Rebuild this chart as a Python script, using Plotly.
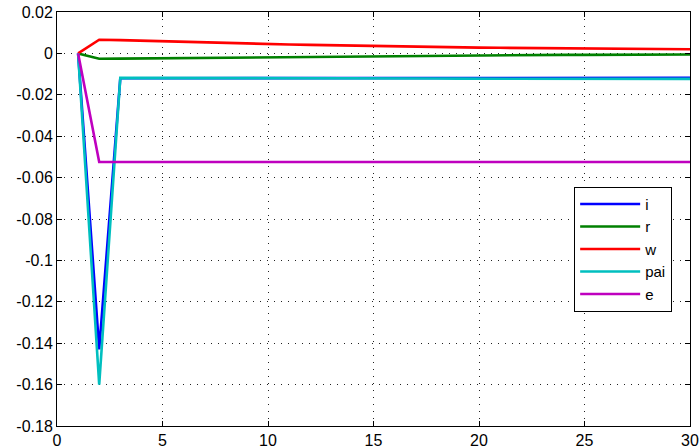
import plotly.graph_objects as go

# Impulse responses over 30 periods
periods = list(range(1, 31))

i_resp = [0, -0.143, -0.0120, -0.0120, -0.0120, -0.0120, -0.0120, -0.0119, -0.0119, -0.0119,
          -0.0119, -0.0119, -0.0119, -0.0119, -0.0119, -0.0118, -0.0118, -0.0118, -0.0118, -0.0118,
          -0.0118, -0.0118, -0.0118, -0.0118, -0.0118, -0.0118, -0.0118, -0.0118, -0.0118, -0.0118]
r_resp = [0, -0.0026, -0.0025, -0.0024, -0.0023, -0.0022, -0.0021, -0.0020, -0.0019, -0.0018,
          -0.0017, -0.0016, -0.0015, -0.0014, -0.0013, -0.0012, -0.0012, -0.0011, -0.0010, -0.0010,
          -0.0009, -0.0008, -0.0008, -0.0007, -0.0007, -0.0006, -0.0006, -0.0005, -0.0005, -0.0005]
w_resp = [0, 0.0066, 0.0064, 0.0061, 0.0058, 0.0055, 0.0052, 0.0050, 0.0047, 0.0045,
          0.0043, 0.0041, 0.0039, 0.0037, 0.0035, 0.0033, 0.0032, 0.0030, 0.0029, 0.0028,
          0.0027, 0.0026, 0.0025, 0.0024, 0.0023, 0.0022, 0.0022, 0.0021, 0.0020, 0.0020]
pai_resp = [0, -0.160, -0.0118, -0.0118, -0.0119, -0.0119, -0.0119, -0.0119, -0.0120, -0.0120,
            -0.0120, -0.0120, -0.0120, -0.0121, -0.0121, -0.0121, -0.0121, -0.0121, -0.0122, -0.0122,
            -0.0122, -0.0122, -0.0122, -0.0123, -0.0123, -0.0123, -0.0123, -0.0123, -0.0123, -0.0123]
e_resp = [0, -0.0525, -0.0525, -0.0525, -0.0525, -0.0525, -0.0525, -0.0525, -0.0525, -0.0525,
          -0.0525, -0.0525, -0.0525, -0.0525, -0.0525, -0.0525, -0.0525, -0.0525, -0.0525, -0.0525,
          -0.0525, -0.0525, -0.0525, -0.0525, -0.0525, -0.0525, -0.0525, -0.0525, -0.0525, -0.0525]

series_names = ["i", "r", "w", "pai", "e"]
series_values = [i_resp, r_resp, w_resp, pai_resp, e_resp]
series_colors = ["#0000FF", "#008000", "#FF0000", "#00BFBF", "#BF00BF"]

x_ticks = [0, 5, 10, 15, 20, 25, 30]
y_ticks = [0.02, 0, -0.02, -0.04, -0.06, -0.08, -0.1, -0.12, -0.14, -0.16, -0.18]
y_tick_text = ["0.02", "0", "-0.02", "-0.04", "-0.06", "-0.08", "-0.1", "-0.12", "-0.14", "-0.16", "-0.18"]

fig = go.Figure()
for name, vals, col in zip(series_names, series_values, series_colors):
    fig.add_trace(go.Scatter(x=periods, y=vals, mode="lines", name=name,
                             line=dict(color=col, width=2.6)))

font = dict(family="Liberation Sans, Arial, sans-serif", size=16, color="black")

fig.update_layout(
    width=700, height=448,
    margin=dict(l=57, r=10, t=12, b=22, pad=0, autoexpand=False),
    paper_bgcolor="white", plot_bgcolor="white",
    font=font,
    showlegend=True,
    legend=dict(x=0.817, y=0.578, xanchor="left", yanchor="top",
                bgcolor="white", bordercolor="black", borderwidth=1,
                font=dict(family="Liberation Sans, Arial, sans-serif", size=15, color="black"),
                itemwidth=60, tracegroupgap=0),
)
fig.update_xaxes(
    range=[0, 30], tickvals=x_ticks, ticks="inside", ticklen=5, tickcolor="black",
    showline=True, linecolor="black", linewidth=1, mirror="ticks",
    showgrid=True, gridcolor="#222222", gridwidth=1, griddash="1px,6px",
    zeroline=False, tickfont=font, automargin=False,
)
fig.update_yaxes(
    range=[-0.18, 0.02], tickvals=y_ticks, ticktext=y_tick_text,
    ticks="inside", ticklen=5, tickcolor="black",
    showline=True, linecolor="black", linewidth=1, mirror="ticks",
    showgrid=True, gridcolor="#222222", gridwidth=1, griddash="1px,6px",
    zeroline=False, tickfont=font, automargin=False,
)

fig.write_html("out.html")
